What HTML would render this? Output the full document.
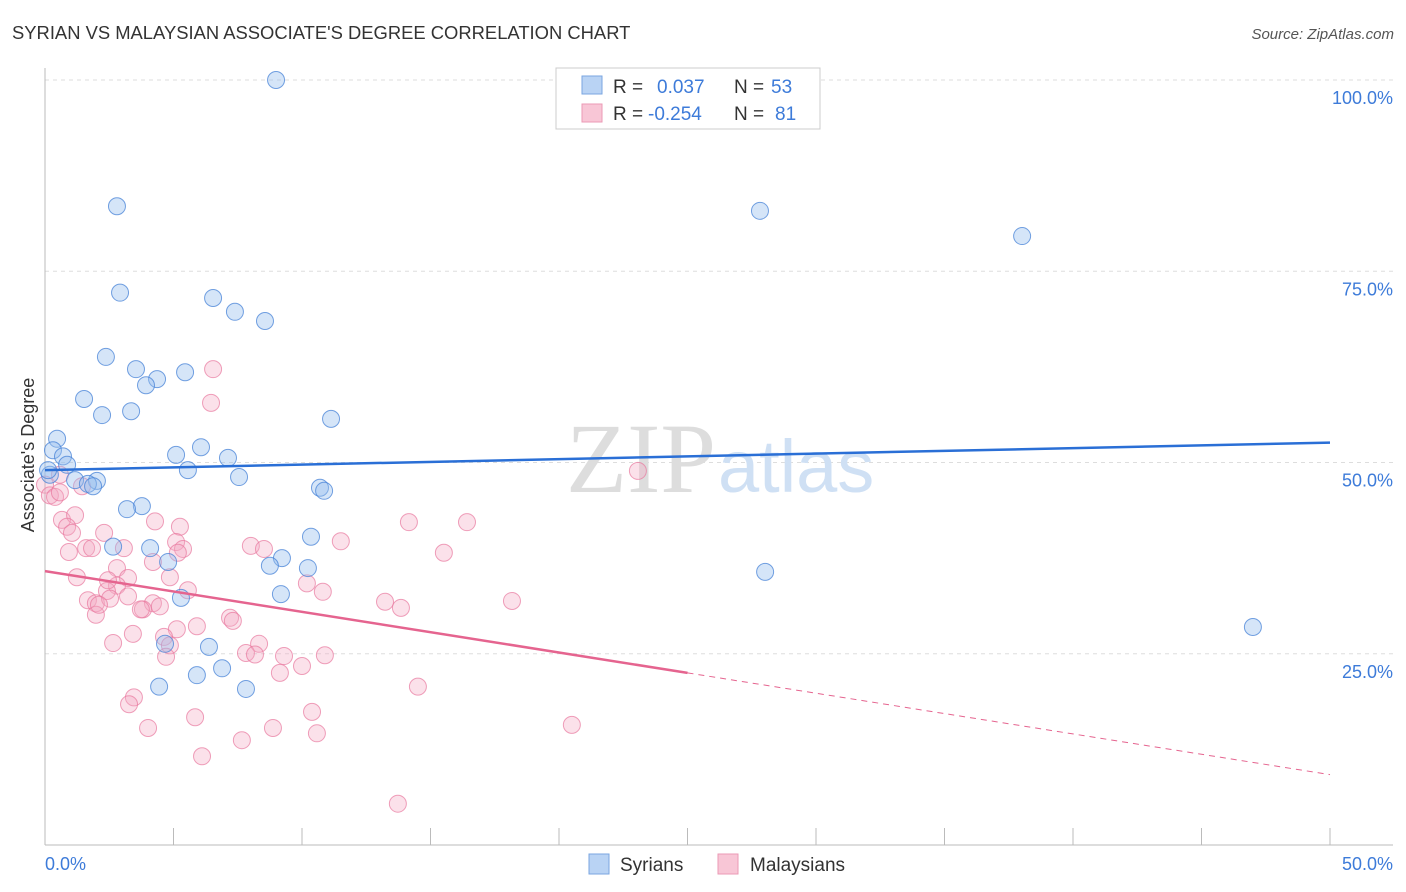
<!DOCTYPE html>
<html><head><meta charset="utf-8"><style>
body{margin:0;background:#fff;font-family:"Liberation Sans",sans-serif;}
svg{display:block}
</style></head><body>
<svg id="chart" width="1406" height="892" xmlns="http://www.w3.org/2000/svg">
<text x="12" y="39" font-size="18.4" fill="#333">SYRIAN VS MALAYSIAN ASSOCIATE'S DEGREE CORRELATION CHART</text>
<text x="1394" y="39" font-size="15" fill="#555" font-style="italic" text-anchor="end">Source: ZipAtlas.com</text>
<g id="grid"></g>
<text x="716" y="492" font-size="100" font-family="Liberation Serif,serif" fill="#ddd" text-anchor="end">ZIP</text>
<text x="718" y="492" font-size="74" fill="#cfe0f4">atlas</text>
<line x1="45" y1="68" x2="45" y2="845" stroke="#bbb"/>
<line x1="45" y1="845" x2="1393" y2="845" stroke="#bbb"/>
<g id="ticks"></g>
<text x="34" y="455" font-size="18" fill="#333" transform="rotate(-90 34 455)" text-anchor="middle">Associate's Degree</text>
<text x="45" y="870" font-size="18" fill="#3d7bd9">0.0%</text>
<text x="1393" y="870" font-size="18" fill="#3d7bd9" text-anchor="end">50.0%</text>
<g id="pts"></g>
<g id="trends"></g>
<g>
<rect x="556" y="68" width="264" height="61" fill="#fff" stroke="#ccc"/>
<rect x="582" y="76" width="20" height="18" fill="#b9d3f4" stroke="#7aa6e0"/>
<rect x="582" y="104" width="20" height="18" fill="#f8c6d6" stroke="#eb9ab5"/>
<text x="613" y="93" font-size="19" fill="#333">R = <tspan fill="#3d7bd9" x="657">0.037</tspan><tspan x="734" fill="#333">N = </tspan><tspan fill="#3d7bd9" x="771">53</tspan></text>
<text x="613" y="120" font-size="19" fill="#333">R = <tspan fill="#3d7bd9" x="648">-0.254</tspan><tspan x="734" fill="#333">N = </tspan><tspan fill="#3d7bd9" x="775">81</tspan></text>
</g>
<rect x="589" y="854" width="20" height="20" fill="#b9d3f4" stroke="#7aa6e0"/>
<text x="620" y="871" font-size="19" fill="#333">Syrians</text>
<rect x="718" y="854" width="20" height="20" fill="#f8c6d6" stroke="#eb9ab5"/>
<text x="750" y="871" font-size="19" fill="#333">Malaysians</text>
</svg>
<script>
const yTicks=[25,50,75,100];
const yTickLabels=["25.0%","50.0%","75.0%","100.0%"];
const xTicks=[0,5,10,15,20,25,30,35,40,45,50];
const syrX=[8.99,2.80,27.82,38.02,2.92,6.54,7.39,8.56,2.37,3.54,5.45,4.36,3.93,1.52,2.22,3.35,11.13,0.47,0.31,0.70,0.86,6.07,7.12,5.10,5.56,7.55,10.70,10.86,1.17,2.02,1.67,1.87,0.19,3.77,3.19,2.65,4.09,10.35,9.22,8.75,4.79,10.23,28.02,5.29,9.18,4.67,6.38,47.0,5.91,6.89,4.44,7.82,0.12];
const syrY=[100,83.5,82.9,79.6,72.2,71.5,69.7,68.5,63.8,62.2,61.8,60.9,60.1,58.3,56.2,56.7,55.7,53.1,51.6,50.8,49.7,52.0,50.6,51.0,49.0,48.1,46.7,46.3,47.7,47.6,47.2,46.9,48.4,44.3,43.9,39.0,38.8,40.3,37.5,36.5,37.0,36.2,35.7,32.3,32.8,26.3,25.9,28.5,22.2,23.1,20.7,20.4,49.0];
const malX=[6.54,6.46,23.07,0,0.19,0.39,0.58,1.44,0.66,1.17,0.86,4.28,5.25,14.16,16.42,1.05,2.30,1.60,1.83,3.07,0.93,5.10,5.37,11.51,8.01,8.52,15.52,2.80,4.20,1.24,3.23,4.86,2.80,2.41,10.19,10.81,5.56,1.67,3.23,1.98,2.53,4.20,4.47,3.81,13.23,13.85,18.17,1.98,3.73,7.20,7.31,5.13,5.91,3.42,2.65,4.63,4.86,8.33,4.71,7.82,8.17,9.30,10.89,10.00,9.14,14.51,3.46,3.27,5.84,10.39,4.01,8.87,20.50,10.58,7.66,6.11,13.73,5.17,2.10,2.45,0.58];
const malY=[62.2,57.8,48.9,47.1,45.7,45.5,46.1,46.9,42.5,43.1,41.6,42.3,41.6,42.2,42.2,40.8,40.8,38.8,38.8,38.8,38.3,39.6,38.7,39.7,39.1,38.7,38.2,36.2,37.0,35.0,34.9,35.0,33.9,33.2,34.2,33.1,33.3,32.0,32.5,31.6,32.2,31.6,31.2,30.8,31.8,31.0,31.9,30.1,30.8,29.7,29.3,28.2,28.6,27.6,26.4,27.2,26.1,26.3,24.6,25.1,24.9,24.7,24.8,23.4,22.5,20.7,19.3,18.4,16.7,17.4,15.3,15.3,15.7,14.6,13.7,11.6,5.4,38.2,31.4,34.6,48.4];
const syrTrend=[49.0,52.6];
const malTrend=[35.8,9.2];
const malSolidEnd=25;
const NS="http://www.w3.org/2000/svg";
const X=v=>45+v*1285/50;
const Y=v=>845-v*7.65;
function mk(tag,attrs,parent){const e=document.createElementNS(NS,tag);for(const k in attrs)e.setAttribute(k,attrs[k]);document.getElementById(parent).appendChild(e);return e;}
yTicks.forEach((t,i)=>{
 const l=mk('line',{x1:45,x2:1393,y1:Y(t),y2:Y(t),stroke:'#ddd','stroke-dasharray':'4,4'},'grid');
 
 
 const tx=mk('text',{x:1393,y:Y(t)+24,'font-size':18,fill:'#3d7bd9','text-anchor':'end'},'grid');
 tx.textContent=yTickLabels[i];
 
 
});
xTicks.forEach(t=>{
 const l=mk('line',{x1:X(t),x2:X(t),y1:828,y2:845,stroke:'#bbb'},'ticks');
 
 
});
malX.forEach((v,i)=>{
 const c=mk('circle',{cx:X(v),cy:Y(malY[i]),r:8.5,fill:'rgba(244,170,195,0.35)',stroke:'rgba(232,120,158,0.7)','stroke-width':1},'pts');
 
 
});
syrX.forEach((v,i)=>{
 const c=mk('circle',{cx:X(v),cy:Y(syrY[i]),r:8.5,fill:'rgba(150,190,238,0.4)',stroke:'rgba(70,130,215,0.75)','stroke-width':1},'pts');
 
 
});
const b=mk('line',{x1:X(0),y1:Y(syrTrend[0]),x2:X(50),y2:Y(syrTrend[1]),stroke:'#2a6fd6','stroke-width':2.5},'trends');


const my=x=>malTrend[0]+(malTrend[1]-malTrend[0])*x/50;
const p1=mk('line',{x1:X(0),y1:Y(my(0)),x2:X(malSolidEnd),y2:Y(my(malSolidEnd)),stroke:'#e5648f','stroke-width':2.5},'trends');


const p2=mk('line',{x1:X(malSolidEnd),y1:Y(my(malSolidEnd)),x2:X(50),y2:Y(my(50)),stroke:'#e5648f','stroke-width':1,'stroke-dasharray':'6,5'},'trends');


</script>
</body></html>
